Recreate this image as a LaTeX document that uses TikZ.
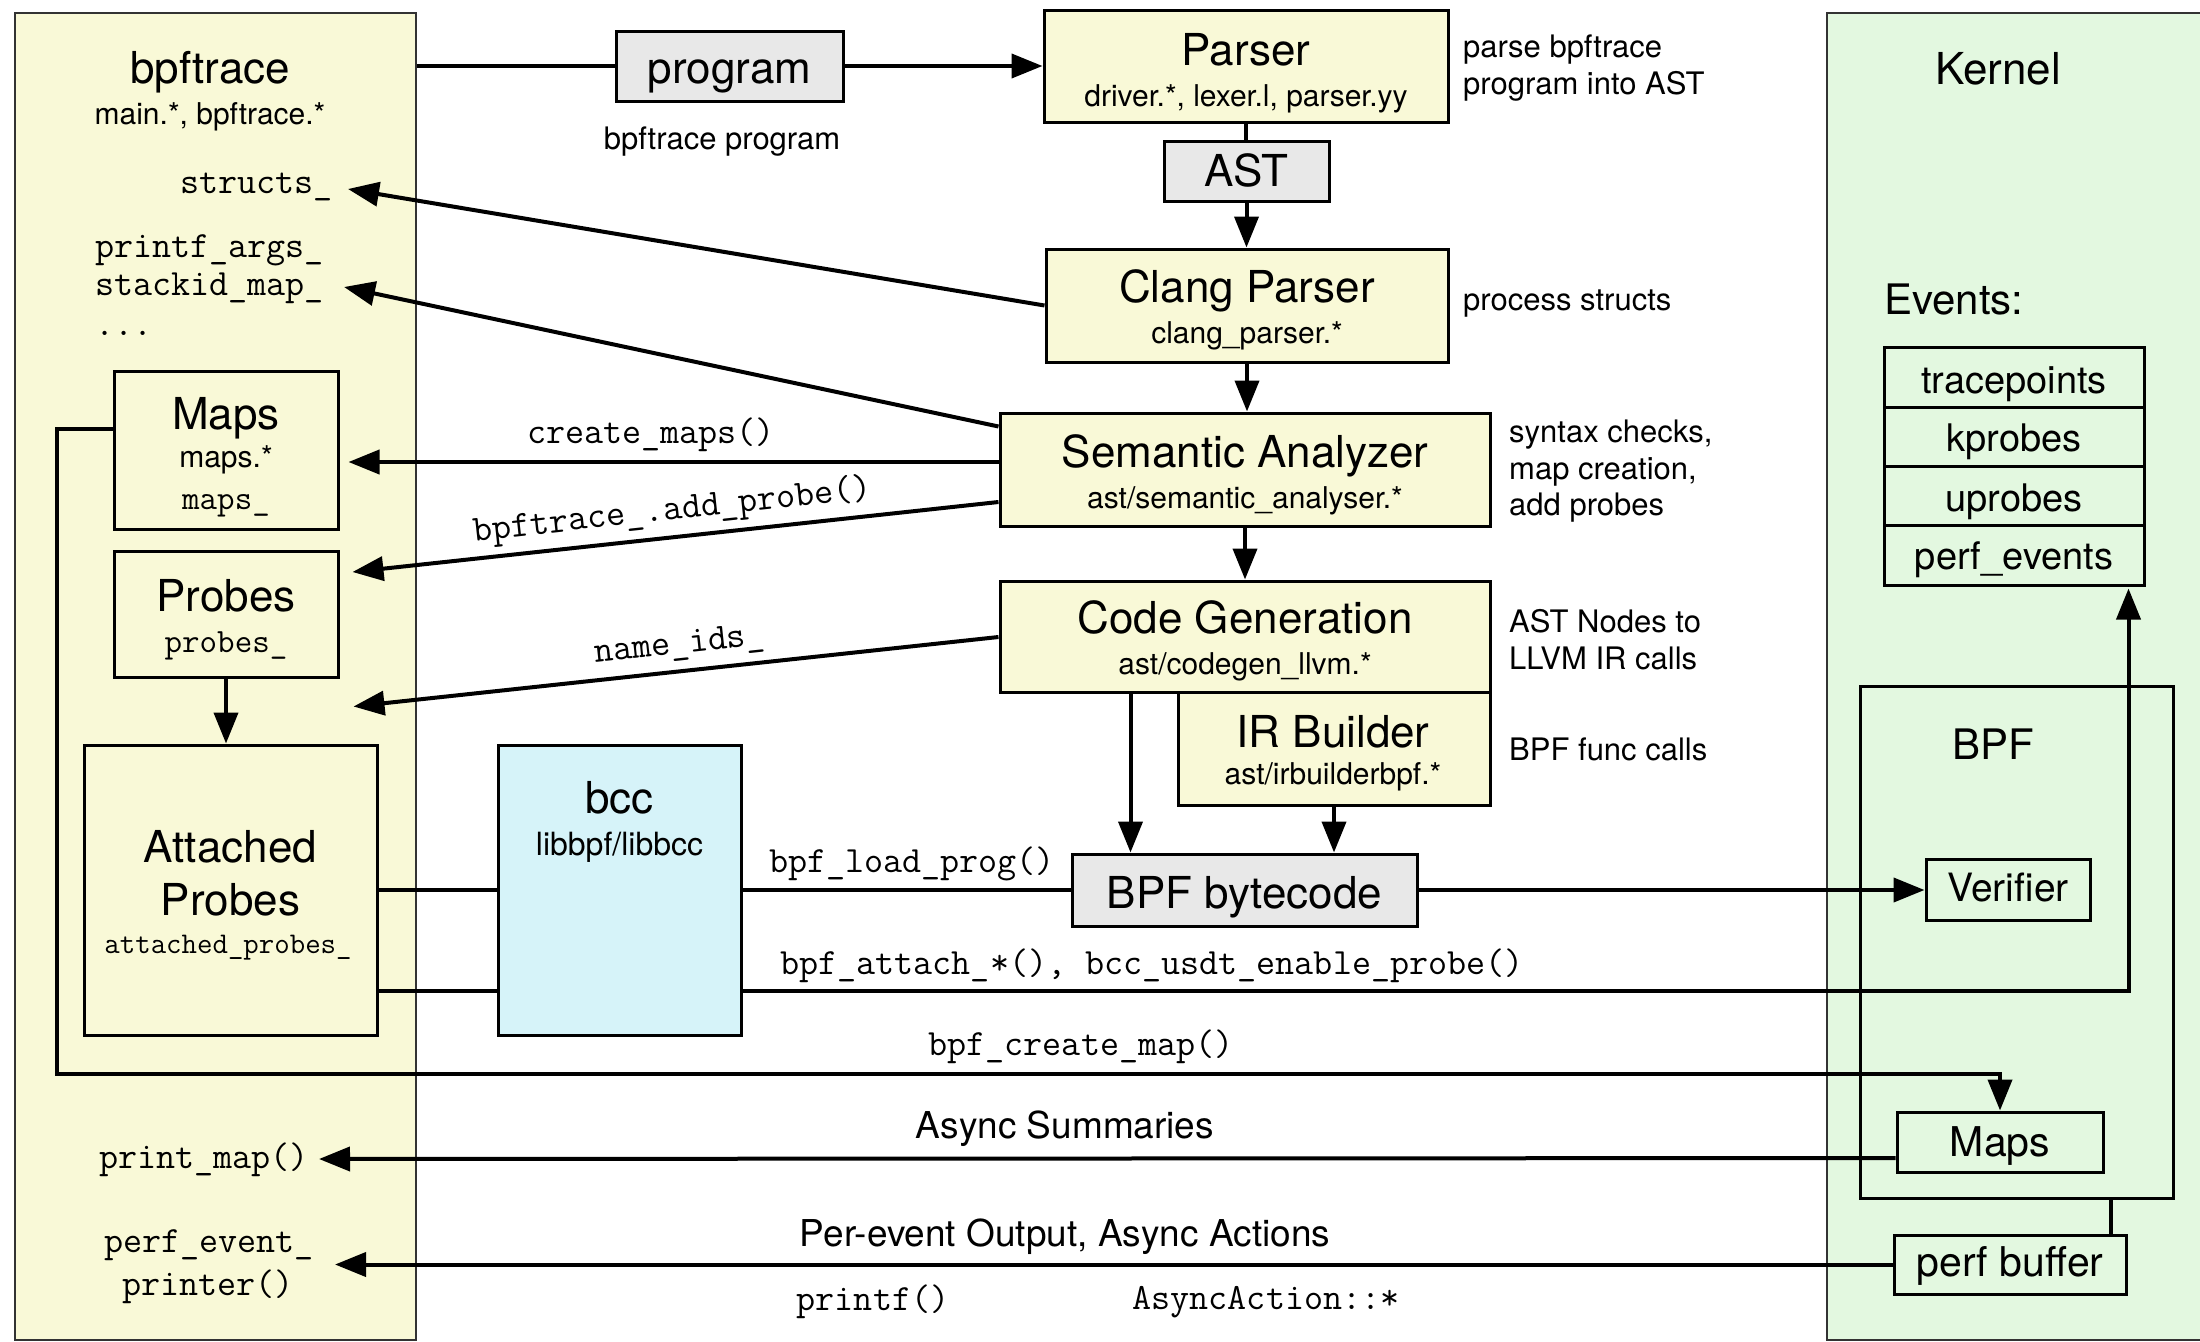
\documentclass[tikz,border=0pt]{standalone}
\usepackage{fontspec}
\setmainfont{TeX Gyre Heros}
\usetikzlibrary{arrows.meta,calc}
\definecolor{yel}{HTML}{F9F9D7}
\definecolor{grn}{HTML}{E3F8E0}
\definecolor{gry}{HTML}{E8E8E8}
\definecolor{cyn}{HTML}{D6F3F9}
\begin{document}
\begin{tikzpicture}[x=1pt,y=-1pt,
  panel/.style={draw=black!80, line width=2.5pt, inner sep=0pt},
  bx/.style={draw=black, line width=3pt, inner sep=0pt, fill=yel},
  conn/.style={line width=4pt},
  arr/.style={line width=4pt, -{Triangle[length=31pt,width=24pt]}},
  t44/.style={inner sep=0pt, yshift=-2pt, font=\fontsize{44}{48}\selectfont, text height=31.7pt, text depth=8.8pt},
  t42/.style={inner sep=0pt, yshift=-2pt, font=\fontsize{42}{46}\selectfont, text height=30.2pt, text depth=8.4pt},
  t41/.style={inner sep=0pt, yshift=-2pt, font=\fontsize{41}{45}\selectfont, text height=29.5pt, text depth=8.2pt},
  t39/.style={inner sep=0pt, yshift=-2pt, font=\fontsize{39}{43}\selectfont, text height=28.1pt, text depth=7.8pt},
  t38/.style={inner sep=0pt, yshift=-2pt, font=\fontsize{38}{42}\selectfont, text height=27.4pt, text depth=7.6pt},
  t37/.style={inner sep=0pt, yshift=-2pt, font=\fontsize{37}{41}\selectfont, text height=26.6pt, text depth=7.4pt},
  t32/.style={inner sep=0pt, yshift=-2pt, font=\fontsize{32}{36}\selectfont, text height=23pt, text depth=6.4pt},
  t31/.style={inner sep=0pt, yshift=-2pt, font=\fontsize{31}{35}\selectfont, text height=22.3pt, text depth=6.2pt},
  t30/.style={inner sep=0pt, yshift=-2pt, font=\fontsize{30}{34}\selectfont, text height=21.6pt, text depth=6pt},
  m37/.style={inner sep=0pt, font=\ttfamily\fontsize{37}{41}\selectfont, text height=26.6pt, text depth=7.4pt},
  m34/.style={inner sep=0pt, font=\ttfamily\fontsize{34}{38}\selectfont, text height=24.5pt, text depth=6.8pt},
  m30/.style={inner sep=0pt, font=\ttfamily\fontsize{30}{34}\selectfont, text height=21.6pt, text depth=6pt}
]
\useasboundingbox (0,0) rectangle (2200,1341);

% ---------------- panels
\node[panel, fill=yel, minimum width=401pt, minimum height=1327pt] (bpfpanel) at (215.5,676.5) {};
\node[panel, fill=grn, minimum width=388pt, minimum height=1327pt] (kpanel) at (2021,676.5) {};

% ---------------- boxes
\node[bx, fill=gry, minimum width=227pt, minimum height=70pt] (program) at (729.5,66) {};
\node[bx, minimum width=404pt, minimum height=112pt] (parser) at (1246,66) {};
\node[bx, fill=gry, minimum width=165pt, minimum height=60pt] (ast) at (1246.5,171) {};
\node[bx, minimum width=402pt, minimum height=113pt] (clang) at (1247,305.5) {};
\node[bx, minimum width=490pt, minimum height=113pt] (sem) at (1245,469.5) {};
\node[bx, minimum width=490pt, minimum height=111pt] (cg) at (1245,636.5) {};
\node[bx, minimum width=312pt, minimum height=113pt] (irb) at (1334,748.5) {};
\node[bx, fill=gry, minimum width=345pt, minimum height=72pt] (bytecode) at (1244.5,890) {};

\node[bx, minimum width=224pt, minimum height=158pt] (lmaps) at (226,450) {};
\node[bx, minimum width=224pt, minimum height=126pt] (probes) at (226,614) {};
\node[bx, minimum width=293pt, minimum height=290pt] (attached) at (230.5,890) {};
\node[bx, fill=cyn, minimum width=243pt, minimum height=290pt] (bcc) at (619.5,890) {};

\node[bx, fill=grn, minimum width=260pt, minimum height=59.25pt] (ev1) at (2014,377.6) {};
\node[bx, fill=grn, minimum width=260pt, minimum height=59.25pt] (ev2) at (2014,436.9) {};
\node[bx, fill=grn, minimum width=260pt, minimum height=59.25pt] (ev3) at (2014,496.1) {};
\node[bx, fill=grn, minimum width=260pt, minimum height=59.25pt] (ev4) at (2014,555.4) {};
\node[bx, fill=grn, minimum width=313pt, minimum height=512pt] (bpfbox) at (2016.5,942) {};
\node[bx, fill=grn, minimum width=164pt, minimum height=61pt] (verifier) at (2008,890) {};
\node[bx, fill=grn, minimum width=206pt, minimum height=60pt] (kmaps) at (2000,1142) {};
\node[bx, fill=grn, minimum width=232pt, minimum height=59pt] (perfbuf) at (2010,1264.5) {};

% ---------------- text nodes used as connector ends
\node[m37, anchor=east] (structs) at (333,184) {structs\_};
\node[m37, anchor=west] (pargs) at (95,248) {printf\_args\_};
\node[m37, anchor=west] (stackid) at (95,286) {stackid\_map\_};
\node[m37, anchor=west] (dots) at (95,326) {...};
\node[m37, anchor=east] (printmap) at (309,1159) {print\_map()};
\node[m37] (pep1) at (209,1243) {perf\_event\_};
\node[m37] (pep2) at (208,1286) {printer()};

% ---------------- connectors
\draw[conn] (bpfpanel.east |- program.west) -- (program.west);
\draw[arr] (program.east) -- (parser.west);
\draw[conn] (parser.south) -- (parser.south |- ast.north);
\draw[arr] (ast.south) -- (ast.south |- clang.north);
\draw[arr] (clang.south) -- (clang.south |- sem.north);
\draw[arr] (sem.south) -- (cg.north);
\draw[arr] ([xshift=132pt]cg.south west) coordinate (cgo) -- (cgo |- bytecode.north);
\draw[arr] (irb.south) -- (irb.south |- bytecode.north);
\draw[arr] (bytecode.east) -- (verifier.west);

\draw[arr] (clang.west) -- ($(structs.east)+(15,5)$);
\draw[arr] ($(sem.north west)+(0,15)$) -- ($(stackid.east)+(20,1)$);
\draw[arr] ($(sem.west)+(0,-7.5)$) -- ($(lmaps.east)+(9,12)$);
\draw[arr] ($(sem.west)+(0,32.5)$) -- node[m37, pos=0.5, sloped, above=8pt] (addprobe) {bpftrace\_.add\_probe()} ($(probes.east)+(13,-42)$);
\draw[arr] ($(cg.west)+(0,0.5)$) -- node[m37, pos=0.49, sloped, above=8pt] (nameids) {name\_ids\_} ($(attached.north east)+(-25,-37)$);

\draw[arr] (probes.south) -- (probes.south |- attached.north);
\draw[conn] (attached.east) -- (bcc.west);
\draw[conn] ($(attached.east)+(0,101)$) -- ($(bcc.west)+(0,101)$);
\draw[conn] (bcc.east) -- (bytecode.west);
\draw[arr] ($(bcc.east)+(0,101)$) -| ($(ev4.south east)+(-17,2)$);
\draw[arr] ($(lmaps.west)+(0,-21)$) -- ++(-56,0) -- ++(0,645) -| (kmaps.north);
\draw[arr] ($(kmaps.west)+(0,16)$) -- ($(printmap.east)+(10,0)$);
\draw[arr] (perfbuf.west) -- ($(perfbuf.west -| pep1.east)+(21,0)$);
\draw[conn] ($(bpfbox.south east)+(-64,0)$) coordinate (bq) -- (bq |- perfbuf.north);

% ---------------- texts
\node[t44] (bpfT) at (210,70) {bpftrace};
\node[t30] (bpfS) at (210,115) {main.*, bpftrace.*};

\node[t44] (programT) at (729.5,70) {program};
\node[t31] (programL) at (722,139) {bpftrace program};

\node[t44] (parserT) at (1246,52) {Parser};
\node[t30] (parserS) at (1246,97) {driver.*, lexer.l, parser.yy};
\node[t31, anchor=west] (n1) at (1463,47) {parse bpftrace};
\node[t31, anchor=west] (n2) at (1463,84) {program into AST};
\node[t44] (astT) at (1246.5,173) {AST};
\node[t44] (clangT) at (1247,289) {Clang Parser};
\node[t30] (clangS) at (1247,334) {clang\_parser.*};
\node[t31, anchor=west] (n3) at (1463,300) {process structs};
\node[t44] (semT) at (1245,454) {Semantic Analyzer};
\node[t30] (semS) at (1245,499) {ast/semantic\_analyser.*};
\node[t31, anchor=west] (n4) at (1509,432) {syntax checks,};
\node[t31, anchor=west] (n5) at (1509,469) {map creation,};
\node[t31, anchor=west] (n6) at (1509,505) {add probes};
\node[t44] (cgT) at (1245,620) {Code Generation};
\node[t30] (cgS) at (1245,665) {ast/codegen\_llvm.*};
\node[t31, anchor=west] (n7) at (1509,622) {AST Nodes to};
\node[t31, anchor=west] (n8) at (1509,659) {LLVM IR calls};
\node[t44] (irbT) at (1333,734) {IR Builder};
\node[t30] (irbS) at (1333,775) {ast/irbuilderbpf.*};
\node[t31, anchor=west] (n9) at (1509,750) {BPF func calls};
\node[t44] (bytecodeT) at (1244.5,895) {BPF bytecode};

\node[t44] (lmapsT) at (226,416) {Maps};
\node[t30] (lmapsS) at (226,458) {maps.*};
\node[m34] (lmapsV) at (226,501) {maps\_};
\node[t44] (probesT) at (226,598) {Probes};
\node[m34] (probesV) at (226,644) {probes\_};
\node[t44] (attT1) at (230.5,849) {Attached};
\node[t44] (attT2) at (230.5,902) {Probes};
\node[m30] (attV) at (228,946) {attached\_probes\_};
\node[t44] (bccT) at (619.5,800) {bcc};
\node[t32] (bccS) at (619.5,845) {libbpf/libbcc};

\node[m37] (lcm) at (651,434) {create\_maps()};
\node[m37] (llp) at (912,863) {bpf\_load\_prog()};
\node[m37] (lat) at (1152,965) {bpf\_attach\_*(), bcc\_usdt\_enable\_probe()};
\node[m37] (lcr) at (1081,1046) {bpf\_create\_map()};
\node[t37] (las) at (1065,1127) {Async Summaries};
\node[t37] (lpe) at (1065,1235) {Per-event Output, Async Actions};
\node[m37] (lpf) at (873,1301) {printf()};
\node[m37] (laa) at (1266,1300) {AsyncAction::*};

\node[t44] (kT) at (1998,71) {Kernel};
\node[t42, anchor=west] (evT) at (1884,302) {Events:};
\node[t38] (ev1T) at (2014,382) {tracepoints};
\node[t38] (ev2T) at (2014,440) {kprobes};
\node[t38] (ev3T) at (2014,500) {uprobes};
\node[t38] (ev4T) at (2014,558) {perf\_events};
\node[t42] (bpfboxT) at (1993,747) {BPF};
\node[t39] (verT) at (2008,889) {Verifier};
\node[t41] (kmapsT) at (2000,1144) {Maps};
\node[t41] (perfT) at (2010,1264) {perf buffer};
\end{tikzpicture}
\end{document}
